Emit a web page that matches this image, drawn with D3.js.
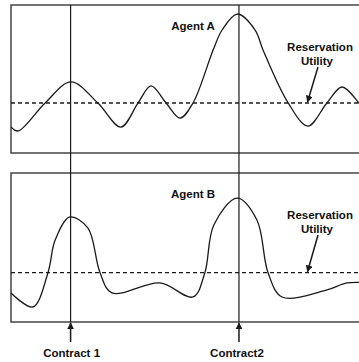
<!DOCTYPE html>
<html>
<head>
<meta charset="utf-8">
<script src="https://cdn.jsdelivr.net/npm/d3@7"></script>
<style>
  body { margin: 0; background: #fff; }
  text { font-family: "Liberation Sans", Arial, sans-serif; font-weight: bold; fill: #111; }
</style>
</head>
<body>
<div id="chart"></div>
<script>
// time along the horizontal axis (0..100), utility on the vertical (0..10)
var agentA_t = [0, 2.0, 9.5, 16.7, 24.2, 30.6, 35.4, 39.0, 43.2, 47.1, 50.7, 56.3, 58.8, 63.0, 68.0, 70.2, 77.2, 82.7, 88.0, 92.2, 96.9, 100]
var agentA_u = [1.76, 1.49, 3.38, 4.80, 3.38, 1.75, 3.38, 4.53, 3.38, 2.36, 3.38, 6.96, 8.31, 9.39, 8.31, 6.96, 3.38, 1.82, 3.38, 4.46, 3.38, 2.4]
var agentB_t = [0, 6.1, 10.3, 12.3, 16.4, 21.4, 24.8, 28.1, 41.5, 50.7, 54.0, 56.5, 63.0, 68.5, 71.6, 75.5, 88.0, 93.6, 100]
var agentB_u = [1.95, 1.01, 3.31, 5.50, 7.05, 6.31, 3.31, 1.95, 2.62, 1.68, 3.31, 6.51, 8.32, 6.85, 3.31, 1.68, 2.15, 2.62, 2.62]
var reservationA = 3.38
var reservationB = 3.31
var contracts = [16.6, 63.5]
var contractLabels = ["Contract 1", "Contract2"]
var panelNames = ["Agent A", "Agent B"]

var width = 359, height = 362
var ink = "#1a1a1a"

const svg = d3.select("#chart").append("svg")
    .attr("width", width)
    .attr("height", height)

svg.append("defs").append("marker")
    .attr("id", "head")
    .attr("viewBox", "0 0 10 10")
    .attr("refX", 9).attr("refY", 5)
    .attr("markerWidth", 7).attr("markerHeight", 7)
    .attr("markerUnits", "userSpaceOnUse")
    .attr("orient", "auto")
    .append("path")
    .attr("d", "M0,0 L10,5 L0,10 z")
    .attr("fill", ink)

var xScale = d3.scaleLinear().domain([0, 100]).range([11, 370])

var panels = [
    { name: panelNames[0], t: agentA_t, u: agentA_u, res: reservationA, top: 5, bottom: 153 },
    { name: panelNames[1], t: agentB_t, u: agentB_u, res: reservationB, top: 173, bottom: 322 }
]

panels.forEach(p => {
    var yScale = d3.scaleLinear().domain([0, 10]).range([p.bottom, p.top])
    var g = svg.append("g")

    g.append("rect")
        .attr("x", xScale(0)).attr("y", p.top)
        .attr("width", xScale(100) - xScale(0)).attr("height", p.bottom - p.top)
        .attr("fill", "none").attr("stroke", "#444").attr("stroke-width", 1.5)

    g.append("line")
        .attr("x1", xScale(0)).attr("x2", xScale(100))
        .attr("y1", yScale(p.res)).attr("y2", yScale(p.res))
        .attr("stroke", ink).attr("stroke-width", 1.3)
        .attr("stroke-dasharray", "4,3")

    var pts = p.t.map((t, i) => [t, p.u[i]])
    g.append("path")
        .datum(pts)
        .attr("fill", "none").attr("stroke", ink).attr("stroke-width", 1.3)
        .attr("d", d3.line().x(d => xScale(d[0])).y(d => yScale(d[1])).curve(d3.curveCatmullRom.alpha(0.5)))

    g.append("text")
        .attr("x", 193).attr("y", p.top + 25)
        .attr("text-anchor", "middle").attr("font-size", 11.5)
        .text(p.name)

    g.append("text")
        .attr("x", 320).attr("y", p.top + 46)
        .attr("text-anchor", "middle").attr("font-size", 11.5)
        .text("Reservation")
    g.append("text")
        .attr("x", 317).attr("y", p.top + 60)
        .attr("text-anchor", "middle").attr("font-size", 11.5)
        .text("Utility")

    g.append("line")
        .attr("x1", 318).attr("y1", p.top + 62)
        .attr("x2", 307.5).attr("y2", yScale(p.res) - 1)
        .attr("stroke", ink).attr("stroke-width", 1.5)
        .attr("marker-end", "url(#head)")
})

// contract verticals run through both panels, arrows below
contracts.forEach((c, i) => {
    var x = xScale(c)
    svg.append("line")
        .attr("x1", x).attr("x2", x)
        .attr("y1", 5).attr("y2", 322)
        .attr("stroke", ink).attr("stroke-width", 1.2)
    svg.append("line")
        .attr("x1", x).attr("x2", x)
        .attr("y1", 342).attr("y2", 323)
        .attr("stroke", ink).attr("stroke-width", 1.5)
        .attr("marker-end", "url(#head)")
    svg.append("text")
        .attr("x", x + (i == 0 ? 1 : -2)).attr("y", 357)
        .attr("text-anchor", "middle").attr("font-size", 11.5)
        .text(contractLabels[i])
})
</script>
</body>
</html>
